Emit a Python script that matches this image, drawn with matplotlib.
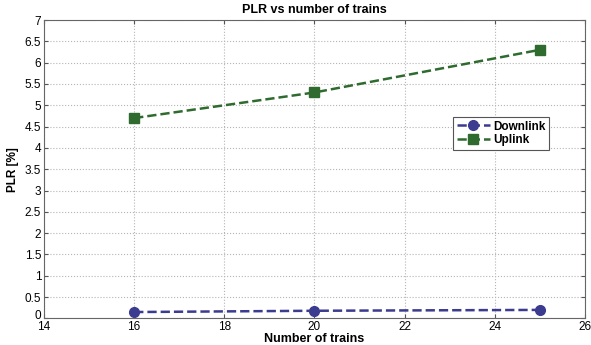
import matplotlib
matplotlib.use('Agg')
import matplotlib.pyplot as plt
import matplotlib.transforms as mtransforms

plt.rcParams['font.family'] = ['Liberation Sans', 'DejaVu Sans']

trains = [16, 20, 25]
downlink = [0.15, 0.18, 0.20]
uplink = [4.7, 5.3, 6.3]
yticks = [0, 0.5, 1, 1.5, 2, 2.5, 3, 3.5, 4, 4.5, 5, 5.5, 6, 6.5, 7]
ytick_labels = ['0', '0.5', '1', '1.5', '2', '2.5', '3', '3.5', '4', '4.5', '5', '5.5', '6', '6.5', '7']

fig = plt.figure(figsize=(5.91, 3.45), dpi=100)
ax = fig.add_axes([0.0745, 0.077, 0.915, 0.865])

ax.plot(trains, downlink, '--o', color='#3b3b8f', lw=1.8, ms=7, label='Downlink')
ax.plot(trains, uplink, '--s', color='#2f6b2f', lw=1.8, ms=6.5, label='Uplink')

ax.set_xlim(14, 26)
ax.set_ylim(0, 7)
ax.set_xticks(range(14, 27, 2))
ax.set_yticks(yticks)
ax.set_yticklabels(ytick_labels)
ax.tick_params(labelsize=8.5, direction='in', length=3, color='#555555', pad=2,
               top=True, right=True)
ax.tick_params(axis='x', pad=1.5)
# lift the "0" label a few pixels so it does not sit on the "14"
lbl0 = ax.get_yticklabels()[0]
lbl0.set_transform(lbl0.get_transform() + mtransforms.ScaledTranslation(0, 3 / 72, fig.dpi_scale_trans))
ax.grid(True, linestyle=':', color='#b5b5b5', lw=0.8)
for s in ax.spines.values():
    s.set_color('#666666')

ax.set_title('PLR vs number of trains', fontsize=9, fontweight='bold', pad=5)
ax.set_xlabel('Number of trains', fontsize=9, fontweight='bold', labelpad=0)
ax.set_ylabel('PLR [%]', fontsize=8.5, fontweight='bold', labelpad=4)

leg = ax.legend(loc='upper left', bbox_to_anchor=(0.757, 0.675),
                prop={'weight': 'bold', 'size': 8.5}, fancybox=False, framealpha=1,
                edgecolor='#555555', borderpad=0.3, labelspacing=0.15, handlelength=2.8,
                handletextpad=0.3, borderaxespad=0)
leg.get_frame().set_linewidth(0.8)

fig.savefig('out.png')
